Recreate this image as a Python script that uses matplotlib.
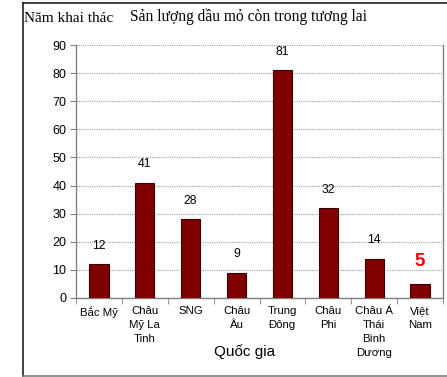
import matplotlib
matplotlib.use("Agg")
import matplotlib.pyplot as plt
from matplotlib.lines import Line2D
import numpy as np

categories = ["Bắc Mỹ", "Châu\nMỹ La\nTinh", "SNG", "Châu\nÂu", "Trung\nĐông",
              "Châu\nPhi", "Châu Á\nThái\nBình\nDương", "Việt\nNam"]
values = [12, 41, 28, 9, 81, 32, 14, 5]
yticks = [0, 10, 20, 30, 40, 50, 60, 70, 80, 90]

W, H = 447, 377
fig = plt.figure(figsize=(W / 100, H / 100), dpi=100)
ax = fig.add_axes([76 / W, 1 - 298 / H, (443 - 76) / W, (298 - 45) / H])

x = np.arange(len(categories))
ax.bar(x, values, width=0.42, color="#800000", edgecolor="#3a0000", linewidth=0.8, zorder=3)

ax.set_xlim(-0.5, len(categories) - 0.5)
ax.set_ylim(0, 90)
ax.set_yticks(yticks)
ax.set_yticklabels([str(t) for t in yticks], fontsize=9, family="Liberation Sans")
ax.set_xticks(x)
ax.set_xticklabels(categories, fontsize=8.2, family="Liberation Sans", linespacing=1.5, va="top")
ax.set_xticks(np.arange(-0.5, len(categories), 1.0), minor=True)
ax.tick_params(axis="x", which="major", length=0, pad=6)
ax.tick_params(axis="x", which="minor", length=4, color="#808080", direction="out")
ax.tick_params(axis="y", length=4, color="#808080", direction="out", pad=3)

ax.grid(axis="y", linestyle=(0, (1, 1)), color="#a0a0a0", linewidth=0.8, zorder=0)
for s in ["left", "bottom", "right"]:
    ax.spines[s].set_color("#808080")
    ax.spines[s].set_linewidth(1.0)
ax.spines["top"].set_visible(False)

for i, v in enumerate(values):
    if i == len(values) - 1:
        ax.annotate(str(v), (x[i], v), xytext=(0, 10), textcoords="offset points",
                    ha="center", va="bottom", fontsize=13.5, fontweight="bold",
                    color="#ff0000", family="Liberation Sans")
    else:
        ax.annotate(str(v), (x[i], v), xytext=(0, 9), textcoords="offset points",
                    ha="center", va="bottom", fontsize=8.8, color="#000000",
                    family="Liberation Sans")

fig.text(24 / W, 1 - 18 / H, "Năm khai thác", fontsize=11, family="Liberation Serif",
         ha="left", va="center")
fig.text(130 / W, 1 - 17 / H, "Sản lượng dầu mỏ còn trong tương lai", fontsize=11.2,
         family="Liberation Serif", ha="left", va="center")
fig.text(245 / W, 1 - 352 / H, "Quốc gia", fontsize=11, family="Liberation Sans",
         ha="center", va="center")

# outer frame
fig.add_artist(Line2D([23 / W, 23 / W], [1 - 3 / H, 1 - 376 / H], transform=fig.transFigure,
                      color="#202020", linewidth=1.2))
fig.add_artist(Line2D([23 / W, 1.0], [1 - 3 / H, 1 - 3 / H], transform=fig.transFigure,
                      color="#202020", linewidth=1.2))
fig.add_artist(Line2D([23 / W, 1.0], [1 - 376 / H, 1 - 376 / H], transform=fig.transFigure,
                      color="#808080", linewidth=1.2))

fig.savefig("out.png", dpi=100)
